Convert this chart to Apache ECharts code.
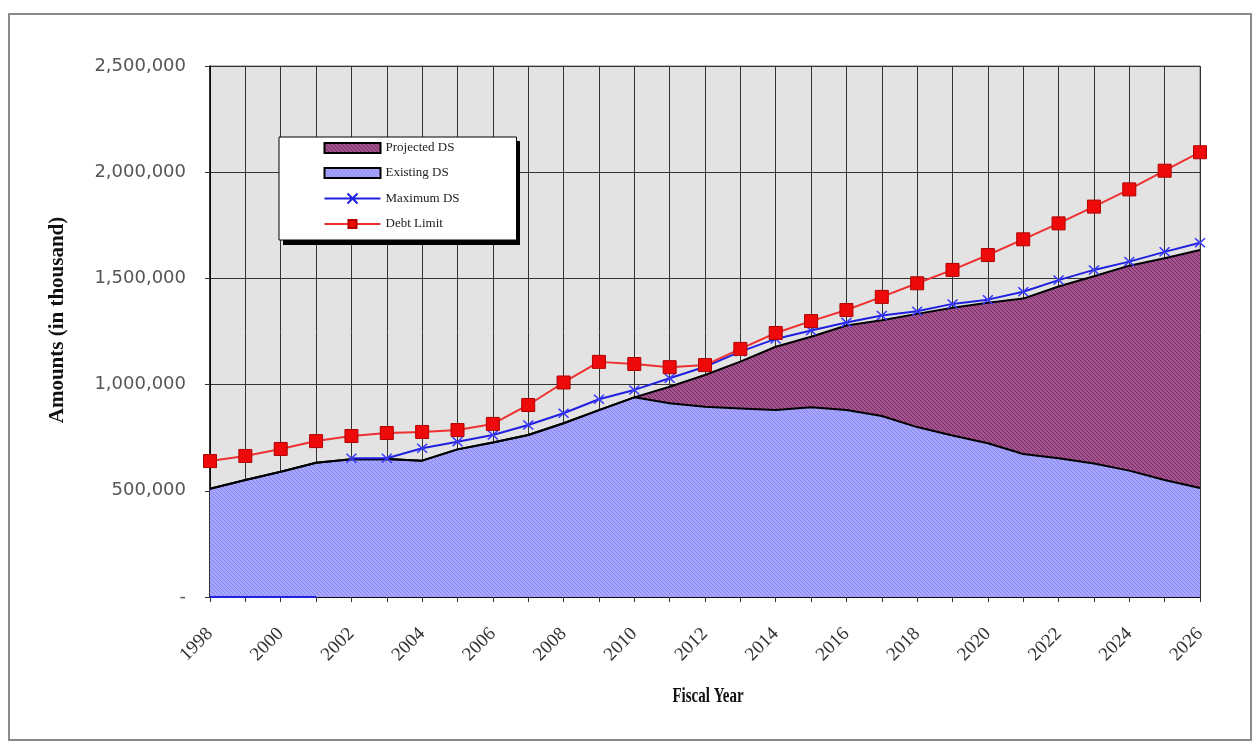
<!DOCTYPE html>
<html>
<head>
<meta charset="utf-8">
<script src="https://cdn.jsdelivr.net/npm/echarts@6/dist/echarts.min.js"></script>
<style>
html,body{margin:0;padding:0;background:#fff;}
#chart{width:1256px;height:743px;}
</style>
</head>
<body>
<div id="chart"></div>
<script>
// ---- data (values in thousands) ----
const years = ['1998','1999','2000','2001','2002','2003','2004','2005','2006','2007','2008','2009','2010','2011','2012','2013','2014','2015','2016','2017','2018','2019','2020','2021','2022','2023','2024','2025','2026'];
const existingDS = [510000,551000,590000,632000,648000,650000,642000,695000,727000,763000,818000,880000,940000,912000,896000,888000,880000,893000,880000,852000,800000,760000,724000,673000,653000,629000,595000,551000,513000];
const projectedDS = [0,0,0,0,0,0,0,0,0,0,0,0,0,78000,149000,220000,298000,332000,398000,451000,533000,602000,661000,732000,809000,881000,965000,1044000,1121000];
const maximumDSZero = [0,0,0,0,null,null,null,null,null,null,null,null,null,null,null,null,null,null,null,null,null,null,null,null,null,null,null,null,null];
const maximumDS = [null,null,null,null,653000,653000,700000,731000,763000,810000,865000,931000,975000,1030000,1084000,1155000,1215000,1255000,1292000,1325000,1345000,1380000,1400000,1437000,1492000,1540000,1579000,1625000,1668000];
const debtLimit = [640000,664000,697000,734000,758000,772000,777000,786000,815000,904000,1010000,1107000,1097000,1082000,1092000,1168000,1243000,1299000,1351000,1413000,1477000,1540000,1610000,1684000,1759000,1838000,1919000,2007000,2094000];
const yTicks = {min:0, max:2500000, interval:500000};
const seriesNames = ['Projected DS','Existing DS','Maximum DS','Debt Limit'];

// ---- hatch patterns ----
function hatch(base, line){
  const c = document.createElement('canvas');
  c.width = 4; c.height = 4;
  const g = c.getContext('2d');
  g.fillStyle = base; g.fillRect(0,0,4,4);
  g.fillStyle = line;
  for (let i=0;i<4;i++){ g.fillRect(i,i,1,1); }
  return {image:c, repeat:'repeat'};
}
const bluePat = hatch('#a6a6ff','#8585ec');
const purplePat = hatch('#a4558f','#74285e');

const chart = echarts.init(document.getElementById('chart'));
const serif = '"Liberation Serif","Times New Roman",serif';

chart.setOption({
  backgroundColor:'#ffffff',
  animation:false,
  grid:{left:210,right:56,top:66,bottom:146,show:true,backgroundColor:'#e3e3e3',borderColor:'#7a7a7a',borderWidth:1},
  legend:{
    left:279, top:137, orient:'vertical', z:10,
    backgroundColor:'#ffffff', borderColor:'#000', borderWidth:1,
    padding:[4,57,9,43],
    itemWidth:56, itemHeight:10, itemGap:11,
    textStyle:{fontFamily:serif,fontSize:13,color:'#222',lineHeight:14},
    data:[
      {name:seriesNames[0], icon:'rect', itemStyle:{color:purplePat,borderColor:'#000',borderWidth:2}},
      {name:seriesNames[1], icon:'rect', itemStyle:{color:bluePat,borderColor:'#000',borderWidth:2}},
      {name:seriesNames[2], icon:'path://M0,5L56,5M23,0L33,10M33,0L23,10', itemStyle:{color:'none',borderColor:'#2020e0',borderWidth:2}},
      {name:seriesNames[3]}
    ]
  },
  xAxis:{
    type:'category', data:years, boundaryGap:false,
    axisLine:{show:true,lineStyle:{color:'#000',width:1.5}},
    axisTick:{show:true,interval:0,length:5,lineStyle:{color:'#333'}},
    axisLabel:{interval:1,rotate:45,margin:34,fontFamily:serif,fontSize:19,color:'#333'},
    splitLine:{show:true,interval:0,lineStyle:{color:'#333',width:1}}
  },
  yAxis:{
    type:'value', min:yTicks.min, max:yTicks.max, interval:yTicks.interval,
    axisLine:{show:true,lineStyle:{color:'#000',width:1.5}},
    axisTick:{show:true,length:5,lineStyle:{color:'#333'}},
    axisLabel:{margin:24,fontFamily:'"DejaVu Sans",Verdana,sans-serif',fontSize:18,color:'#555',
      formatter:function(v){ return v===0 ? '-' : v.toLocaleString('en-US'); }},
    splitLine:{show:true,lineStyle:{color:'#333',width:1}}
  },
  graphic:[
    {type:'rect',silent:true,z:-10,shape:{x:9,y:14,width:1242,height:726},style:{fill:'none',stroke:'#8a8a8a',lineWidth:2}},
    {type:'rect',silent:true,z:9,shape:{x:283,y:141,width:237,height:104},style:{fill:'#000'}},
    {type:'text',x:58,y:320,rotation:Math.PI/2,style:{text:'Amounts (in thousand)',font:'bold 21px '+serif,fill:'#111',textAlign:'center',textVerticalAlign:'middle'}},
    {type:'text',x:708,y:697,scaleX:0.75,style:{text:'Fiscal Year',font:'bold 20px '+serif,fill:'#111',textAlign:'center',textVerticalAlign:'middle'}}
  ],
  series:[
    {name:seriesNames[1],type:'line',stack:'ds',data:existingDS,symbol:'none',
      lineStyle:{color:'#000',width:2},itemStyle:{color:bluePat},areaStyle:{color:bluePat,opacity:1},z:2},
    {name:seriesNames[0],type:'line',stack:'ds',data:projectedDS,symbol:'none',
      lineStyle:{color:'#000',width:2},itemStyle:{color:purplePat},areaStyle:{color:purplePat,opacity:1},z:2},
    {name:seriesNames[2],type:'line',data:maximumDSZero,symbol:'none',
      lineStyle:{color:'#2020e0',width:2},itemStyle:{color:'#2020e0'},z:3},
    {name:seriesNames[2],type:'line',data:maximumDS,
      symbol:'path://M0,0L10,10M10,0L0,10',symbolSize:[10,9],
      lineStyle:{color:'#2020e0',width:2},itemStyle:{color:'#2020e0',borderColor:'#3a3aff',borderWidth:1.5},z:3},
    {name:seriesNames[3],type:'line',data:debtLimit,symbol:'rect',symbolSize:13,
      lineStyle:{color:'#f03030',width:2},itemStyle:{color:'#ee0a0a',borderColor:'#b00000',borderWidth:1},z:4}
  ]
});
</script>
</body>
</html>
